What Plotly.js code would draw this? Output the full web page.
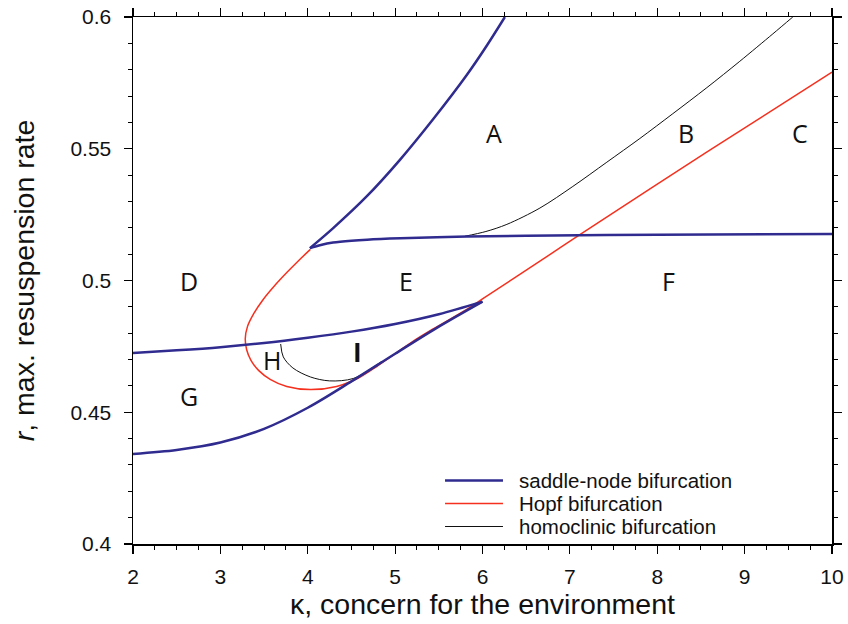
<!DOCTYPE html>
<html>
<head>
<meta charset="utf-8">
<script src="https://cdn.plot.ly/plotly-3.0.1.min.js"></script>
<style>
  html, body { margin: 0; padding: 0; background: #fff; }
  #chart { width: 848px; height: 624px; }
</style>
</head>
<body>
<div id="chart"></div>
<script>
// Saddle-node bifurcation: upper cusp, steep branch
const snSteepK = [4.025, 4.288, 4.677, 5.055, 5.432, 5.822, 6.05, 6.256];
const snSteepR = [0.5123, 0.5198, 0.5320, 0.5458, 0.5611, 0.5781, 0.5892, 0.6000];
// Saddle-node bifurcation: upper cusp, flat branch
const snFlatK = [4.025, 4.15, 4.29, 4.50, 4.68, 5.06, 5.82, 6.5, 8.0, 10.0];
const snFlatR = [0.5123, 0.5135, 0.5144, 0.5151, 0.5155, 0.5160, 0.5167, 0.5170, 0.5174, 0.5176];
// Saddle-node bifurcation: lower cusp, upper branch
const snMidK = [2.0, 2.5, 3.0, 3.5, 4.0, 4.5, 5.0, 5.5, 6.0];
const snMidR = [0.4725, 0.4735, 0.4747, 0.4763, 0.4783, 0.4806, 0.4835, 0.4872, 0.4920];
// Saddle-node bifurcation: lower cusp, lower branch
const snLowK = [2.0, 2.5, 3.0, 3.5, 4.0, 4.5, 5.0, 5.5, 6.0];
const snLowR = [0.4342, 0.4357, 0.4385, 0.4437, 0.4517, 0.4617, 0.4722, 0.4825, 0.4920];

// Hopf bifurcation
const hopfK = [4.03, 3.90, 3.76, 3.62, 3.49, 3.38, 3.31, 3.285, 3.30, 3.35, 3.44, 3.57, 3.76, 4.03, 4.33, 4.58, 4.80, 5.20, 5.43, 5.82, 6.00, 6.77, 7.11, 8.57, 10.0];
const hopfR = [0.5118, 0.5077, 0.5030, 0.4980, 0.4928, 0.4873, 0.4825, 0.4780, 0.4738, 0.4697, 0.4658, 0.4625, 0.4598, 0.4586, 0.4598, 0.4630, 0.4676, 0.4768, 0.4815, 0.4890, 0.4930, 0.5098, 0.5173, 0.5488, 0.5791];

// Homoclinic bifurcation: upper curve
const homUpK = [5.799, 6.039, 6.279, 6.657, 7.034, 7.423, 7.801, 8.178, 8.568, 8.945, 9.323, 9.551];
const homUpR = [0.5168, 0.5186, 0.5213, 0.5275, 0.5357, 0.5449, 0.5539, 0.5633, 0.5732, 0.5832, 0.5936, 0.6000];
// Homoclinic bifurcation: small loop between H and I
const homLoK = [3.69, 3.72, 3.83, 4.03, 4.25, 4.52, 4.79, 4.85];
const homLoR = [0.4759, 0.4710, 0.4668, 0.4634, 0.4619, 0.4628, 0.4680, 0.4694];

// Region labels
const regionNames = ['A', 'B', 'C', 'D', 'E', 'F', 'G', 'H', 'I'];
const regionK = [6.13, 8.33, 9.63, 2.64, 5.12, 8.13, 2.64, 3.59, 4.57];
const regionR = [0.556, 0.556, 0.556, 0.500, 0.500, 0.500, 0.456, 0.470, 0.473];

// Axis ticks
const kTicks = [2, 3, 4, 5, 6, 7, 8, 9, 10];
const kTickText = ['2', '3', '4', '5', '6', '7', '8', '9', '10'];
const rTicks = [0.4, 0.45, 0.5, 0.55, 0.6];
const rTickText = ['0.4', '0.45', '0.5', '0.55', '0.6'];

// Legend entries
const legendNames = ['saddle-node bifurcation', 'Hopf bifurcation', 'homoclinic bifurcation'];

const BLUE = '#2f2b8f';
const RED = '#f5301e';
const BLACK = '#111111';
const FONT = 'Liberation Sans, Arial, sans-serif';

function curve(k, r, color, width) {
  return {
    x: k, y: r, type: 'scatter', mode: 'lines',
    line: { color: color, width: width, shape: 'spline', smoothing: 0.9 },
    showlegend: false, hoverinfo: 'skip'
  };
}

const traces = [
  curve(hopfK, hopfR, RED, 1.5),
  curve(homUpK, homUpR, BLACK, 1),
  curve(homLoK, homLoR, BLACK, 1),
  curve(snSteepK, snSteepR, BLUE, 2.5),
  curve(snFlatK, snFlatR, BLUE, 2.5),
  curve(snMidK, snMidR, BLUE, 2.5),
  curve(snLowK, snLowR, BLUE, 2.5)
];

const annotations = regionNames.map((name, i) => ({
  x: regionK[i], y: regionR[i], xref: 'x', yref: 'y',
  text: name === 'I' ? '<b>I</b>' : name,
  showarrow: false,
  font: { family: 'Open Sans, Liberation Sans, sans-serif', size: name === 'I' ? 26 : 25, color: '#111' }
}));

// Key in the lower right of the plot area
const legendColors = [BLUE, RED, BLACK];
const legendWidths = [2.5, 1.5, 1];
const legendRowY = [0.1205, 0.0769, 0.0332];
const shapes = [];
legendNames.forEach((name, i) => {
  shapes.push({
    type: 'line', xref: 'paper', yref: 'paper',
    x0: 0.4464, x1: 0.5293, y0: legendRowY[i], y1: legendRowY[i],
    line: { color: legendColors[i], width: legendWidths[i] }
  });
  annotations.push({
    x: 0.5508, y: legendRowY[i], xref: 'paper', yref: 'paper',
    xanchor: 'left', yanchor: 'middle', text: name, showarrow: false,
    borderpad: 0,
    font: { family: FONT, size: 20.5, color: '#111' }
  });
});

const axisCommon = {
  showgrid: false, zeroline: false,
  showline: true, linecolor: '#000', linewidth: 1.5, mirror: 'ticks',
  ticks: 'outside', ticklen: 8, tickwidth: 1.2, tickcolor: '#000',
  tickfont: { family: FONT, size: 21, color: '#111' }
};

const layout = {
  width: 848, height: 624,
  margin: { l: 133, r: 16, t: 17, b: 80 },
  paper_bgcolor: '#fff', plot_bgcolor: '#fff',
  showlegend: false,
  xaxis: Object.assign({}, axisCommon, {
    range: [2, 10], tickvals: kTicks, ticktext: kTickText,
    minor: { dtick: 0.25, ticks: 'outside', ticklen: 4, tickwidth: 1, tickcolor: '#000' },
    ticklabelstandoff: 5,
    title: { text: 'κ, concern for the environment', standoff: 6,
             font: { family: FONT, size: 28.5, color: '#111' } }
  }),
  yaxis: Object.assign({}, axisCommon, {
    range: [0.4, 0.6], tickvals: rTicks, ticktext: rTickText,
    minor: { dtick: 0.01, ticks: 'outside', ticklen: 4, tickwidth: 1, tickcolor: '#000' },
    ticklabelstandoff: 8,
    title: { text: '<i>r</i>, max. resuspension rate', standoff: 27,
             font: { family: FONT, size: 28.5, color: '#111' } }
  }),
  shapes: shapes,
  annotations: annotations
};

Plotly.newPlot('chart', traces, layout, { staticPlot: true });
</script>
</body>
</html>
